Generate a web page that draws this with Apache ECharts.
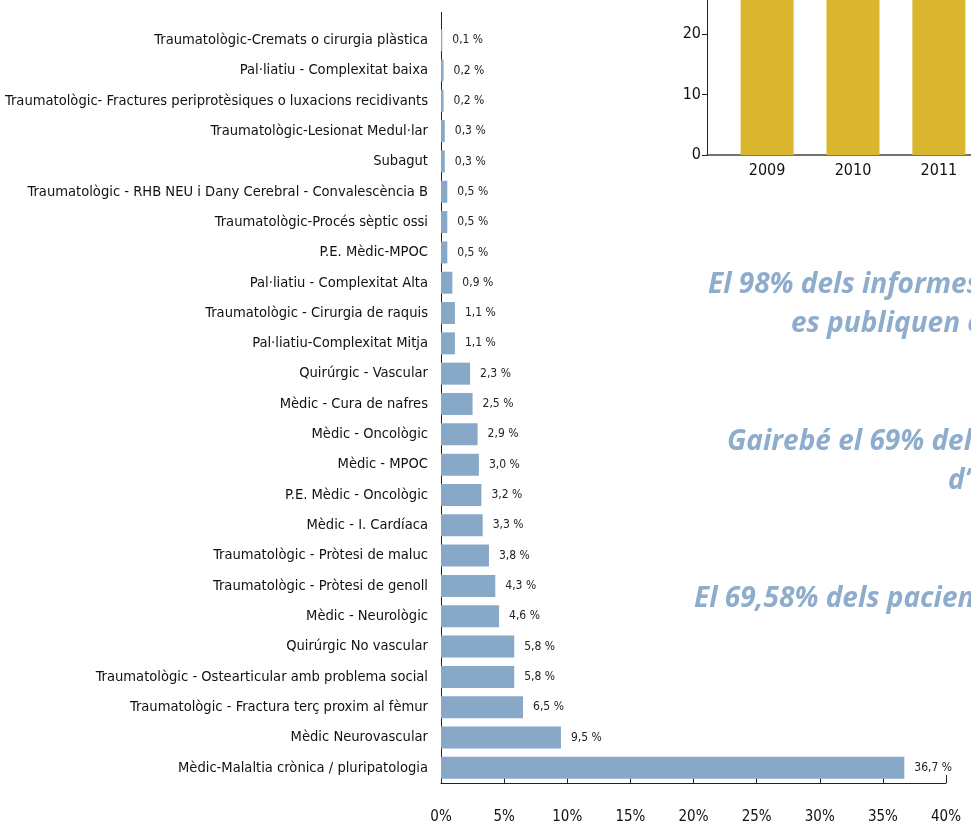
<!DOCTYPE html>
<html>
<head>
<meta charset="utf-8">
<script src="https://cdn.jsdelivr.net/npm/echarts@6/dist/echarts.min.js"></script>
<style>
  html, body { margin: 0; padding: 0; background: #fff; }
  #chart { width: 971px; height: 826px; }
</style>
</head>
<body>
<div id="chart"></div>
<script>
// categories, bottom to top (as the y axis draws them)
const categories = [
  'Mèdic-Malaltia crònica / pluripatologia',
  'Mèdic Neurovascular',
  'Traumatològic - Fractura terç proxim al fèmur',
  'Traumatològic - Ostearticular amb problema social',
  'Quirúrgic No vascular',
  'Mèdic - Neurològic',
  'Traumatològic - Pròtesi de genoll',
  'Traumatològic - Pròtesi de maluc',
  'Mèdic - I. Cardíaca',
  'P.E. Mèdic - Oncològic',
  'Mèdic - MPOC',
  'Mèdic - Oncològic',
  'Mèdic - Cura de nafres',
  'Quirúrgic - Vascular',
  'Pal·liatiu-Complexitat Mitja',
  'Traumatològic - Cirurgia de raquis',
  'Pal·liatiu - Complexitat Alta',
  'P.E. Mèdic-MPOC',
  'Traumatològic-Procés sèptic ossi',
  'Traumatològic - RHB NEU i Dany Cerebral - Convalescència B',
  'Subagut',
  'Traumatològic-Lesionat Medul·lar',
  'Traumatològic- Fractures periprotèsiques o luxacions recidivants',
  'Pal·liatiu - Complexitat baixa',
  'Traumatològic-Cremats o cirurgia plàstica'
];
const percentages = [
  36.7, 9.5, 6.5, 5.8, 5.8, 4.6, 4.3, 3.8, 3.3, 3.2, 3.0, 2.9, 2.5,
  2.3, 1.1, 1.1, 0.9, 0.5, 0.5, 0.5, 0.3, 0.3, 0.2, 0.2, 0.1
];
const percentTicks = [0, 5, 10, 15, 20, 25, 30, 35, 40];

// small year chart in the top right corner (cut off by the page edge)
const years = [2009, 2010, 2011];
const yearValues = [36, 37, 38];

// side notes, cut off at the right edge
const notes = [
  'El 98% dels informes de resultats',
  'es publiquen en',
  'Gairebé el 69% dels',
  'd’',
  'El 69,58% dels pacients'
];

const barColor = '#88a8c8';
const noteColor = '#8eaccb';
const axisColor = '#222';
const font = '"Liberation Sans Narrow", "DejaVu Sans Condensed", sans-serif';

const chart = echarts.init(document.getElementById('chart'));

const noteStyle = (text) => ({
  text: text,
  fontFamily: '"Open Sans", sans-serif',
  fontStyle: 'italic',
  fontWeight: 'bold',
  fontSize: 28,
  fill: noteColor
});

const option = {
  animation: false,
  backgroundColor: '#fff',
  grid: [
    { left: 441, top: 25, width: 505, height: 758, outerBoundsMode: 'none', containLabel: false },
    { left: 707, top: -87, width: 292, height: 242, outerBoundsMode: 'none', containLabel: false }
  ],
  xAxis: [
    {
      gridIndex: 0,
      type: 'value',
      min: percentTicks[0],
      max: percentTicks[percentTicks.length - 1],
      interval: 5,
      splitLine: { show: false },
      axisLine: { show: true, lineStyle: { color: axisColor, width: 1 } },
      axisTick: { show: true, inside: true, length: 8, lineStyle: { color: axisColor } },
      axisLabel: {
        margin: 27,
        fontFamily: font,
        fontSize: 15,
        color: '#111',
        formatter: (v) => v + '%'
      }
    },
    {
      gridIndex: 1,
      type: 'value',
      min: 2008.3,
      max: 2011.7,
      splitLine: { show: false },
      axisLine: { show: true, lineStyle: { color: '#444', width: 1.5 } },
      axisTick: { show: false },
      axisLabel: {
        margin: 8,
        fontFamily: font,
        fontSize: 16,
        color: '#111',
        showMinLabel: false,
        showMaxLabel: false,
        formatter: (v) => (Number.isInteger(v) ? String(v) : '')
      }
    }
  ],
  yAxis: [
    {
      gridIndex: 0,
      type: 'category',
      data: categories,
      axisLine: { show: true, lineStyle: { color: axisColor, width: 1 } },
      axisTick: { show: false },
      axisLabel: {
        margin: 13,
        fontFamily: font,
        fontSize: 14.6,
        color: '#111'
      }
    },
    {
      gridIndex: 1,
      type: 'value',
      min: 0,
      max: 40,
      interval: 10,
      splitLine: { show: false },
      axisLine: { show: true, lineStyle: { color: axisColor, width: 1 } },
      axisTick: { show: true, length: 5, lineStyle: { color: axisColor } },
      axisLabel: {
        margin: 6,
        fontFamily: font,
        fontSize: 16,
        color: '#111'
      }
    }
  ],
  series: [
    {
      type: 'bar',
      xAxisIndex: 0,
      yAxisIndex: 0,
      data: percentages,
      barWidth: 22,
      itemStyle: { color: barColor },
      label: {
        show: true,
        position: 'right',
        distance: 10,
        fontFamily: font,
        fontSize: 12,
        color: '#222',
        formatter: (p) => p.value.toFixed(1).replace('.', ',') + ' %'
      }
    },
    {
      type: 'bar',
      xAxisIndex: 1,
      yAxisIndex: 1,
      data: years.map((y, i) => [y, yearValues[i]]),
      barWidth: 53,
      itemStyle: { color: '#dab62f' }
    }
  ],
  graphic: [
    // y axis line runs a little above the first bar
    { type: 'line', shape: { x1: 441.5, y1: 12, x2: 441.5, y2: 25 }, style: { stroke: axisColor, lineWidth: 1 } },
    { type: 'text', left: 708, top: 271, style: noteStyle(notes[0]) },
    { type: 'text', left: 791, top: 310, style: noteStyle(notes[1]) },
    { type: 'text', left: 727, top: 428, style: noteStyle(notes[2]) },
    { type: 'text', left: 948, top: 467, style: noteStyle(notes[3]) },
    { type: 'text', left: 694, top: 585, style: noteStyle(notes[4]) }
  ]
};

chart.setOption(option);
window.addEventListener('resize', () => chart.resize());
</script>
</body>
</html>
